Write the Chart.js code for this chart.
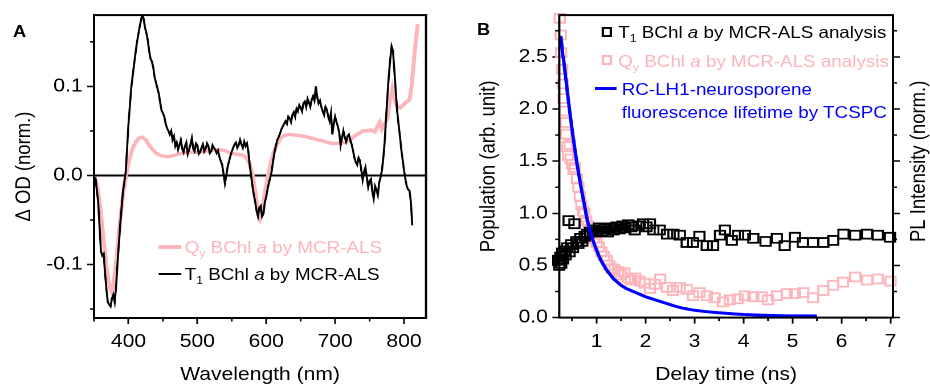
<!DOCTYPE html>
<html>
<head>
<meta charset="utf-8">
<script src="https://cdn.jsdelivr.net/npm/chart.js@4.4.1/dist/chart.umd.min.js"></script>
<style>
  html, body { margin: 0; padding: 0; background: #fff; }
  body { width: 930px; height: 386px; overflow: hidden; position: relative; }
  #fig { position: absolute; left: 0; top: 0; width: 816px; height: 386px;
         transform: scaleX(1.1397); transform-origin: 0 0;
         font-family: 'Liberation Sans', Arial, sans-serif; }
  canvas { position: absolute; top: 0; }
  .txt { position: absolute; white-space: nowrap; font-size: 16.5px; line-height: 1.117; }
  .txt sub { font-size: 0.65em; vertical-align: -0.35em; line-height: 0; }
  .panel { position: absolute; font-weight: bold; font-size: 16px; line-height: 1.117; }
  .swatch { position: absolute; }
</style>
</head>
<body>
<div id="fig">
  <canvas id="chartA" width="403" height="386" style="left:0"></canvas>
  <canvas id="chartB" width="413" height="386" style="left:403px"></canvas>

  <div class="panel" style="left:11.4px;top:22.5px">A</div>
  <div class="panel" style="left:418.5px;top:20.5px">B</div>

  <!-- legend A -->
  <div class="swatch" style="left:138.9px;top:244.7px;width:20.5px;height:4px;background:#fcb5ba"></div>
  <div class="txt" style="left:162px;top:238.4px;color:#fcb5ba">Q<sub>y</sub> BChl <i>a</i> by MCR-ALS</div>
  <div class="swatch" style="left:138.9px;top:273px;width:20.5px;height:2px;background:#000"></div>
  <div class="txt" style="left:162px;top:265.1px;color:#000">T<sub>1</sub> BChl <i>a</i> by MCR-ALS</div>

  <!-- legend B -->
  <div class="swatch" style="left:528px;top:26.7px;width:8.8px;height:10px;border:2px solid #000;box-sizing:border-box"></div>
  <div class="txt" style="left:542.5px;top:23.4px;color:#000">T<sub>1</sub> BChl <i>a</i> by MCR-ALS analysis</div>
  <div class="swatch" style="left:528px;top:55px;width:8.8px;height:10px;border:2px solid #fcb5ba;box-sizing:border-box"></div>
  <div class="txt" style="left:542.5px;top:51.8px;color:#fcb5ba">Q<sub>y</sub> BChl <i>a</i> by MCR-ALS analysis</div>
  <div class="swatch" style="left:522.1px;top:86.8px;width:19px;height:3px;background:#0000ff"></div>
  <div class="txt" style="left:545.5px;top:80.1px;color:#0000ff">RC-LH1-neurosporene</div>
  <div class="txt" style="left:545.5px;top:103.4px;color:#0000ff">fluorescence lifetime by TCSPC</div>
</div>

<script>
// ---- panel A: spectra (wavelength in nm, ΔOD normalised) ----
const t1Wl = [352,356,360,362,364,366,368,370,372,374,
  376,378,380,382,384,388,392,396,400,404,
  408,412,416,420,422,424,426,428,430,432,
  434,436,438,440,442,444,446,448,450,452,
  454,456,458,460,462,464,466,468,470,472,
  474,476,478,480,482,484,486,488,490,492,
  494,496,498,500,502,504,506,508,510,512,
  514,516,518,520,522,524,526,528,530,532,
  534,536,538,540,542,544,546,548,550,552,
  554,556,558,560,562,564,566,568,570,572,
  574,576,578,580,582,584,586,588,590,592,
  594,596,598,600,602,604,606,608,610,612,
  614,616,618,620,622,624,626,628,630,632,
  634,636,638,640,642,644,646,648,650,652,
  654,656,658,660,662,664,666,668,670,672,
  674,676,678,680,682,684,686,688,690,692,
  694,696,698,700,702,704,706,708,710,712,
  714,716,718,720,722,724,726,728,730,732,
  734,736,738,740,742,744,746,748,750,752,
  754,756,758,760,762,764,766,768,770,772,
  774,776,778,780,782,784,786,788,790,792,
  794,796,798,800,802,804,806,808,810,812];
const t1Spec = [-0.002,-0.030,-0.085,-0.090,-0.088,-0.110,-0.128,-0.142,-0.145,-0.147,
  -0.138,-0.134,-0.142,-0.125,-0.100,-0.055,-0.018,0.004,0.058,0.098,
  0.124,0.148,0.166,0.181,0.176,0.166,0.160,0.152,0.140,0.131,
  0.128,0.121,0.110,0.104,0.098,0.092,0.082,0.073,0.070,0.066,
  0.058,0.053,0.050,0.046,0.050,0.040,0.044,0.033,0.037,0.029,
  0.034,0.040,0.030,0.026,0.033,0.037,0.024,0.029,0.035,0.042,
  0.030,0.027,0.036,0.034,0.024,0.026,0.031,0.035,0.027,0.030,
  0.036,0.033,0.025,0.027,0.034,0.031,0.029,0.025,0.028,0.021,
  0.016,0.012,0.002,-0.009,0.000,0.010,0.016,0.022,0.027,0.031,
  0.035,0.037,0.031,0.034,0.040,0.035,0.031,0.038,0.033,0.036,
  0.027,0.012,0.000,-0.012,-0.022,-0.030,-0.040,-0.046,-0.036,-0.034,
  -0.046,-0.043,-0.030,-0.024,-0.015,-0.008,-0.002,0.005,0.016,0.026,
  0.033,0.040,0.043,0.047,0.052,0.055,0.058,0.061,0.058,0.066,
  0.064,0.060,0.068,0.071,0.066,0.075,0.072,0.079,0.076,0.072,
  0.081,0.083,0.077,0.086,0.082,0.077,0.085,0.089,0.084,0.100,
  0.088,0.081,0.084,0.077,0.072,0.068,0.077,0.074,0.066,0.061,
  0.070,0.046,0.058,0.066,0.060,0.055,0.048,0.034,0.042,0.050,
  0.043,0.038,0.044,0.046,0.040,0.035,0.028,0.020,0.015,0.012,
  0.020,0.017,0.006,-0.005,0.004,0.009,-0.002,-0.013,-0.006,-0.004,
  -0.018,-0.026,-0.012,-0.016,-0.022,-0.008,-0.002,0.006,0.020,0.038,
  0.065,0.090,0.112,0.130,0.145,0.140,0.118,0.095,0.073,0.058,
  0.045,0.030,0.018,0.006,-0.004,-0.012,-0.016,-0.017,-0.030,-0.056];

const qyWl = [352,356,360,364,368,372,376,380,384,388,392,396,400,405,410,415,420,425,430,435,
  440,448,456,464,472,480,490,500,510,520,530,540,548,556,564,570,575,580,584,588,
  591,594,598,602,606,610,615,620,626,635,645,655,665,675,685,695,705,715,722,728,
  734,740,746,752,758,762,765,768,772,776,780,783,786,790,795,800,804,808,811,814,817,820];
const qySpec = [-0.004,-0.018,-0.042,-0.072,-0.102,-0.124,-0.131,-0.112,-0.082,-0.050,-0.022,-0.002,0.014,0.028,0.037,0.042,0.043,0.040,0.034,0.029,
  0.025,0.022,0.021,0.022,0.024,0.025,0.026,0.026,0.027,0.028,0.029,0.028,0.025,0.024,0.023,0.021,0.015,0.002,-0.018,-0.040,
  -0.048,-0.040,-0.020,-0.002,0.012,0.024,0.034,0.041,0.045,0.046,0.045,0.044,0.042,0.040,0.038,0.036,0.036,0.037,0.040,0.044,
  0.047,0.050,0.050,0.051,0.049,0.056,0.060,0.052,0.058,0.064,0.086,0.097,0.086,0.077,0.076,0.080,0.083,0.085,0.100,0.125,0.150,0.170];

// ---- panel B: kinetics (delay time in ns) ----
const t1Time = [0.22,0.24,0.26,0.28,0.30,0.32,0.35,0.37,0.40,0.43,0.45,0.48,0.52,0.55,0.59,0.63,0.67,0.71,0.76,0.81,
  0.87,0.93,0.99,1.05,1.11,1.17,1.23,1.29,1.35,1.41,1.47,1.53,1.59,1.65,1.71,1.78,1.86,1.95,2.02,2.09,
  2.16,2.29,2.44,2.57,2.70,2.84,2.97,3.10,3.25,3.38,3.52,3.62,3.76,3.89,4.03,4.20,4.45,4.68,4.84,5.05,
  5.21,5.42,5.63,5.83,6.04,6.28,6.52,6.74,6.99];
const t1Pop = [0.55,0.50,0.58,0.52,0.62,0.56,0.64,0.60,0.67,0.93,0.63,0.70,0.67,0.90,0.73,0.71,0.76,0.73,0.78,0.80,
  0.82,0.84,0.82,0.86,0.83,0.85,0.82,0.86,0.84,0.87,0.85,0.88,0.86,0.89,0.87,0.84,0.88,0.90,0.87,0.90,
  0.84,0.84,0.80,0.80,0.79,0.72,0.72,0.78,0.69,0.69,0.79,0.84,0.74,0.79,0.79,0.76,0.73,0.76,0.69,0.77,
  0.72,0.72,0.72,0.74,0.80,0.79,0.80,0.79,0.77];

const qyTime = [0.25,0.27,0.28,0.30,0.31,0.33,0.35,0.37,0.38,0.40,0.42,0.45,0.47,0.50,0.53,0.56,0.60,0.63,0.66,0.69,
  0.72,0.75,0.79,0.83,0.87,0.91,0.95,1.00,1.05,1.10,1.15,1.21,1.26,1.31,1.37,1.44,1.50,1.57,1.64,1.71,
  1.79,1.88,1.98,2.09,2.19,2.30,2.44,2.56,2.70,2.84,2.97,3.10,3.25,3.41,3.58,3.72,3.88,4.03,4.20,4.37,
  4.50,4.68,4.88,5.05,5.22,5.42,5.63,5.83,6.03,6.28,6.52,6.74,7.00];
const qyPop = [2.87,2.71,2.54,2.38,2.24,2.10,1.98,1.87,1.76,1.64,1.55,1.66,1.52,1.47,1.42,1.44,1.33,1.25,1.16,1.08,
  1.02,1.00,0.93,0.88,0.84,0.80,0.76,0.72,0.68,0.63,0.59,0.55,0.50,0.47,0.46,0.44,0.41,0.43,0.38,0.36,
  0.38,0.35,0.33,0.28,0.32,0.37,0.29,0.26,0.29,0.27,0.21,0.24,0.21,0.19,0.15,0.17,0.18,0.21,0.20,0.20,
  0.17,0.21,0.23,0.23,0.24,0.19,0.26,0.31,0.34,0.39,0.36,0.37,0.35];

const plTime = [0.27,0.29,0.31,0.33,0.35,0.38,0.41,0.44,0.48,0.52,0.56,0.60,0.64,0.68,0.72,0.76,0.80,0.85,0.90,0.95,
  1.00,1.05,1.10,1.15,1.20,1.25,1.30,1.35,1.40,1.45,1.50,1.60,1.70,1.80,1.90,2.00,2.10,2.20,2.30,2.40,
  2.50,2.60,2.70,2.80,2.90,3.00,3.20,3.40,3.60,3.80,4.00,4.20,4.40,4.60,4.80,5.00,5.20,5.50];
const plDecay = [2.70,2.62,2.52,2.47,2.38,2.27,2.14,2.03,1.88,1.74,1.61,1.48,1.37,1.26,1.16,1.06,0.96,0.86,0.78,0.71,
  0.65,0.59,0.54,0.50,0.46,0.43,0.40,0.37,0.35,0.33,0.31,0.28,0.26,0.24,0.22,0.20,0.185,0.17,0.155,0.14,
  0.125,0.11,0.097,0.087,0.078,0.070,0.059,0.050,0.043,0.036,0.030,0.026,0.023,0.020,0.018,0.017,0.016,0.015];

const PINK = '#fcb5ba';
const FONT = "'Liberation Sans', Arial, sans-serif";

Chart.defaults.font.family = FONT;
Chart.defaults.color = '#000';

const pts = (xs, ys) => xs.map((x, i) => ({ x: x, y: ys[i] }));

// box round the plot area
const frame = {
  id: 'frame',
  afterDatasetsDraw(chart) {
    const { ctx, chartArea: a } = chart;
    ctx.save();
    ctx.strokeStyle = '#000';
    ctx.lineWidth = 2;
    ctx.strokeRect(a.left, a.top, a.right - a.left, a.bottom - a.top);
    ctx.restore();
  }
};

// short ticks half way between the labelled ones
const minorTicks = {
  id: 'minorTicks',
  afterDraw(chart) {
    const ctx = chart.ctx;
    ctx.save();
    ctx.strokeStyle = '#000';
    ctx.lineWidth = 1.5;
    Object.values(chart.scales).forEach(s => {
      const vals = s.ticks.map(t => t.value);
      if (vals.length < 2) return;
      const step = vals[1] - vals[0];
      for (let k = -1; k < vals.length; k++) {
        const v = vals[0] + (k + 0.5) * step;
        if (v < s.min - 1e-9 || v > s.max + 1e-9) continue;
        const p = s.getPixelForValue(v);
        ctx.beginPath();
        if (s.isHorizontal()) { ctx.moveTo(p, s.top); ctx.lineTo(p, s.top + 3.5); }
        else if (s.position === 'left') { ctx.moveTo(s.right, p); ctx.lineTo(s.right - 3.5, p); }
        else { ctx.moveTo(s.left, p); ctx.lineTo(s.left + 3.5, p); }
        ctx.stroke();
      }
    });
    ctx.restore();
  }
};

const tickFont = { size: 18.5 };
const titleFont = { size: 18.5 };

new Chart(document.getElementById('chartA'), {
  type: 'scatter',
  data: {
    datasets: [
      { label: 'T1 BChl a by MCR-ALS', data: pts(t1Wl, t1Spec), showLine: true,
        borderColor: '#000', borderWidth: 1.8, pointRadius: 0 },
      { label: 'Qy BChl a by MCR-ALS', data: pts(qyWl, qySpec), showLine: true,
        borderColor: PINK, borderWidth: 3.5, pointRadius: 0 }
    ]
  },
  options: {
    responsive: false,
    animation: false,
    devicePixelRatio: 2,
    layout: { padding: { left: 0, right: 29.2, top: 14, bottom: 0 } },
    plugins: { legend: { display: false }, tooltip: { enabled: false } },
    scales: {
      x: {
        type: 'linear', min: 350, max: 832,
        ticks: { stepSize: 100, includeBounds: false, font: tickFont, padding: 7, maxRotation: 0 },
        grid: { drawOnChartArea: false, tickLength: 6, tickColor: '#000', tickWidth: 1.5 },
        border: { display: false },
        title: { display: true, text: 'Wavelength (nm)', font: titleFont, padding: { top: 0, bottom: 0 } },
        afterFit: s => { s.height = 68; }
      },
      y: {
        min: -0.16, max: 0.18,
        ticks: { stepSize: 0.1, includeBounds: false, font: tickFont, padding: 4, callback: v => v.toFixed(1) },
        grid: {
          color: c => (c.tick && Math.abs(c.tick.value) < 1e-9) ? '#000' : 'rgba(0,0,0,0)',
          lineWidth: 2, tickLength: 6, tickColor: '#000', tickWidth: 1.5
        },
        border: { display: false },
        title: { display: true, text: 'Δ OD (norm.)', font: titleFont, padding: { top: 10.5, bottom: 0 } },
        afterFit: s => { s.width = 82.5; }
      }
    }
  },
  plugins: [frame, minorTicks]
});

// right axis title reads bottom-to-top in the figure
const rightTitle = {
  id: 'rightTitle',
  afterDraw(chart) {
    const ctx = chart.ctx;
    const s = chart.scales.y2;
    ctx.save();
    ctx.translate(chart.width - 9.6, (s.top + s.bottom) / 2 - 5);
    ctx.rotate(-Math.PI / 2);
    ctx.font = '18.5px ' + FONT;
    ctx.fillStyle = '#000';
    ctx.textAlign = 'center';
    ctx.textBaseline = 'middle';
    ctx.fillText('PL Intensity (norm.)', 0, 0);
    ctx.restore();
  }
};

new Chart(document.getElementById('chartB'), {
  type: 'scatter',
  data: {
    datasets: [
      { label: 'RC-LH1-neurosporene fluorescence lifetime by TCSPC', data: pts(plTime, plDecay), showLine: true,
        borderColor: '#0000ff', borderWidth: 3, pointRadius: 0, yAxisID: 'y2' },
      { label: 'T1 BChl a by MCR-ALS analysis', data: pts(t1Time, t1Pop),
        pointStyle: 'rect', pointRadius: 6.3, borderWidth: 1.8, borderColor: '#000',
        backgroundColor: 'rgba(0,0,0,0)', clip: false },
      { label: 'Qy BChl a by MCR-ALS analysis', data: pts(qyTime, qyPop),
        pointStyle: 'rect', pointRadius: 6.3, borderWidth: 1.8, borderColor: PINK,
        backgroundColor: 'rgba(0,0,0,0)', clip: false }
    ]
  },
  options: {
    responsive: false,
    animation: false,
    devicePixelRatio: 2,
    layout: { padding: { left: 0, right: 0, top: 14, bottom: 0 } },
    plugins: { legend: { display: false }, tooltip: { enabled: false } },
    scales: {
      x: {
        type: 'linear', min: 0.24, max: 7.05,
        ticks: { stepSize: 1, includeBounds: false, font: tickFont, padding: 7, maxRotation: 0 },
        grid: { drawOnChartArea: false, tickLength: 6, tickColor: '#000', tickWidth: 1.5 },
        border: { display: false },
        title: { display: true, text: 'Delay time (ns)', font: titleFont, padding: { top: 0, bottom: 0 } },
        afterFit: s => { s.height = 68.4; }
      },
      y: {
        min: 0, max: 2.9,
        ticks: { stepSize: 0.5, includeBounds: false, font: tickFont, padding: 4, callback: v => v.toFixed(1) },
        grid: { drawOnChartArea: false, tickLength: 6, tickColor: '#000', tickWidth: 1.5 },
        border: { display: false },
        title: { display: true, text: 'Population (arb. unit)', font: titleFont, padding: { top: 14.8, bottom: 0 } },
        afterFit: s => { s.width = 87.7; }
      },
      y2: {
        position: 'right', min: 0, max: 2.9,
        ticks: { stepSize: 0.5, includeBounds: false, display: false },
        grid: { drawOnChartArea: false, tickLength: 6, tickColor: '#000', tickWidth: 1.5 },
        border: { display: false },
        afterFit: s => { s.width = 32.5; }
      }
    }
  },
  plugins: [frame, minorTicks, rightTitle]
});
</script>
</body>
</html>
